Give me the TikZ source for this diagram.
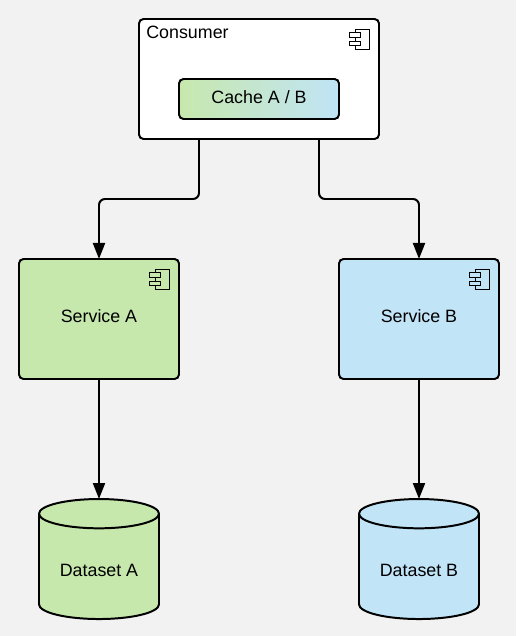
\documentclass[tikz,border=0pt]{standalone}
\usepackage{fontspec}
\setmainfont{Liberation Sans}
\usetikzlibrary{arrows.meta,shapes.geometric}
\definecolor{pageGray}{RGB}{242,242,242}
\definecolor{boxGreen}{RGB}{199,232,172}
\definecolor{boxBlue}{RGB}{193,228,247}
\tikzset{
  every node/.style={font=\fontsize{10.15}{12}\selectfont},
  box/.style={draw=black, line width=1.13pt, rounded corners=0.09cm, outer sep=0pt, text depth=0.12cm},
  service/.style={box, minimum width=3.2cm, minimum height=2.4cm},
  dataset/.style={draw=black, line width=1.13pt, cylinder, shape border rotate=90, aspect=2.5,
    minimum width=2.4cm, minimum height=2.4cm, outer sep=0pt,
    cylinder uses custom fill},
  conn/.style={line width=1.13pt, rounded corners=0.12cm, -{Triangle[length=0.32cm,width=0.24cm]}},
  pics/compicon/.style={code={
    \draw[line width=0.5pt] (-0.48,-0.2) rectangle (-0.2,-0.6);
    \draw[line width=0.5pt, fill=#1] (-0.6,-0.27) rectangle (-0.38,-0.36);
    \draw[line width=0.5pt, fill=#1] (-0.6,-0.44) rectangle (-0.38,-0.53);
  }}
}
\begin{document}
\begin{tikzpicture}
  \fill[pageGray] (0,0) rectangle (10.32,12.72);
  \useasboundingbox (0,0) rectangle (10.32,12.72);
  % top box with the shared cache
  \node[box, fill=white, minimum width=4.8cm, minimum height=2.4cm] (consumer) at (5.18,11.14) {};
  \node[anchor=north west, inner sep=0pt] (consumerlabel) at ([xshift=0.14cm,yshift=-0.13cm]consumer.north west) {Consumer};
  \node[box, text depth=0.09cm, left color=boxGreen, right color=boxBlue, minimum width=3.2cm, minimum height=0.8cm] (cache) at (5.18,10.74) {Cache A / B};
  \pic at (consumer.north east) {compicon=white};
  % services
  \node[service, fill=boxGreen] (servicea) at (1.98,6.34) {Service A};
  \node[service, fill=boxBlue] (serviceb) at (8.38,6.34) {Service B};
  \pic at (servicea.north east) {compicon=boxGreen};
  \pic at (serviceb.north east) {compicon=boxBlue};
  % datasets
  \node[dataset, cylinder body fill=boxGreen, cylinder end fill=boxGreen] (dataseta) at (1.98,1.32) {};
  \node[dataset, cylinder body fill=boxBlue, cylinder end fill=boxBlue] (datasetb) at (8.38,1.32) {};
  \node (datasetalabel) at (dataseta.center) {Dataset A};
  \node (datasetblabel) at (datasetb.center) {Dataset B};
  % connectors
  \draw[conn] ([xshift=-1.2cm]consumer.south) -- ++(0,-1.2) -| (servicea.north);
  \draw[conn] ([xshift=1.2cm]consumer.south) -- ++(0,-1.2) -| (serviceb.north);
  \draw[conn] (servicea.south) -- (dataseta.north);
  \draw[conn] (serviceb.south) -- (datasetb.north);
\end{tikzpicture}
\end{document}
